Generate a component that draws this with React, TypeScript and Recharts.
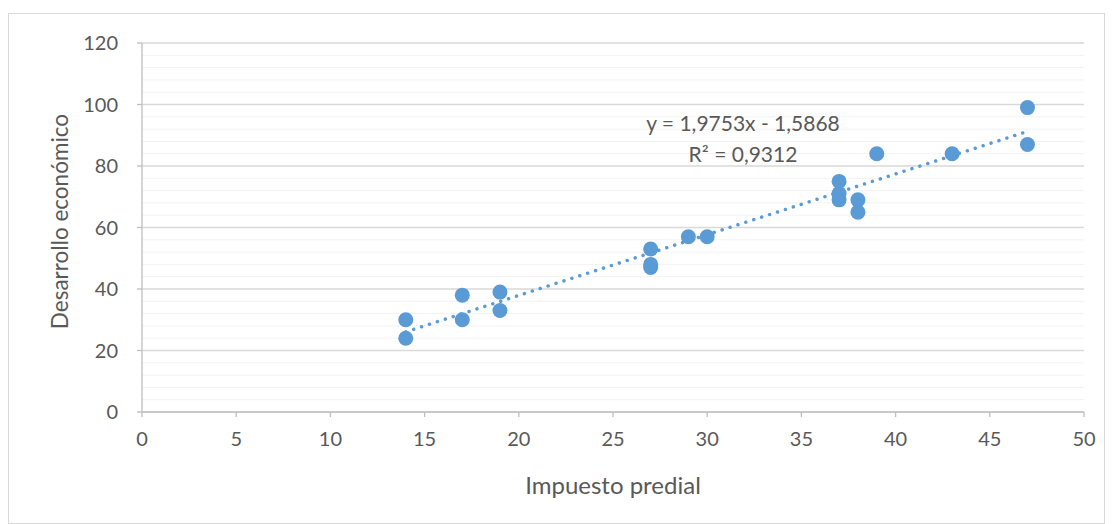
import React from 'react';
import {
  ScatterChart,
  Scatter,
  XAxis,
  YAxis,
  CartesianGrid,
  ReferenceLine,
  ReferenceDot,
} from 'recharts';

const impuestoPredial = [14, 14, 17, 17, 19, 19, 27, 27, 27, 29, 30, 37, 37, 37, 38, 38, 39, 43, 47, 47];
const desarrolloEconomico = [30, 24, 38, 30, 39, 33, 53, 48, 47, 57, 57, 75, 71, 69, 69, 65, 84, 84, 99, 87];

const xTicks = [0, 5, 10, 15, 20, 25, 30, 35, 40, 45, 50];
const yTicks = [0, 20, 40, 60, 80, 100, 120];
const yMinorTicks = [4, 8, 12, 16, 24, 28, 32, 36, 44, 48, 52, 56, 64, 68, 72, 76, 84, 88, 92, 96, 104, 108, 112, 116];

// Excel linear trendline
const slope = 1.9753;
const intercept = -1.5868;
const rSquared = '0,9312';

const FONT = 'Lato, "Open Sans", sans-serif';
const TEXT = '#595959';
const BLUE = '#5b9bd5';

const W = 1095;
const H = 509;
const MARGIN = { top: 29, right: 20, left: 43, bottom: 51 };

const data = impuestoPredial.map((x, i) => ({ x, y: desarrolloEconomico[i] }));
const xMin = Math.min(...impuestoPredial);
const xMax = Math.max(...impuestoPredial);
const trend = [
  { x: xMin, y: slope * xMin + intercept },
  { x: xMax, y: slope * xMax + intercept },
];

const Marker = (props: any) => <circle cx={props.cx} cy={props.cy} r={7.5} fill={BLUE} />;

const App: React.FC = () => {
  return (
    <div
      style={{
        width: W + 2,
        height: H + 2,
        marginTop: 5,
        border: '1px solid #d9d9d9',
        boxSizing: 'border-box',
        background: '#fff',
      }}
    >
      <ScatterChart width={W} height={H} margin={MARGIN}>
        {yMinorTicks.map((v) => (
          <ReferenceLine key={v} y={v} stroke="#f2f2f2" strokeWidth={1} />
        ))}
        <CartesianGrid vertical={false} stroke="#d9d9d9" strokeWidth={1.3} />
        <XAxis
          type="number"
          dataKey="x"
          domain={[0, 50]}
          ticks={xTicks}
          interval={0}
          height={60}
          stroke="#bfbfbf"
          strokeWidth={1.3}
          tickSize={5}
          tickMargin={15}
          tick={{ fill: TEXT, fontSize: 20, fontFamily: FONT }}
          label={{
            content: (p: any) => (
              <text
                x={p.viewBox.x + p.viewBox.width / 2}
                y={p.viewBox.y + 72}
                textAnchor="middle"
                dominantBaseline="central"
                fill={TEXT}
                fontSize={24}
                fontFamily={FONT}
              >
                Impuesto predial
              </text>
            ),
          }}
        />
        <YAxis
          type="number"
          dataKey="y"
          domain={[0, 120]}
          ticks={yTicks}
          interval={0}
          width={90}
          stroke="#bfbfbf"
          strokeWidth={1.3}
          tickSize={5}
          tickMargin={19}
          tick={{ fill: TEXT, fontSize: 20, fontFamily: FONT }}
          label={{
            content: (p: any) => {
              const cx = p.viewBox.x + 7;
              const cy = p.viewBox.y + p.viewBox.height / 2 - 6;
              return (
                <text
                  x={cx}
                  y={cy}
                  transform={`rotate(-90 ${cx} ${cy})`}
                  textAnchor="middle"
                  dominantBaseline="central"
                  fill={TEXT}
                  fontSize={22.5}
                  fontFamily={FONT}
                >
                  Desarrollo económico
                </text>
              );
            },
          }}
        />
        <Scatter data={data} shape={Marker} isAnimationActive={false} />
        <ReferenceLine
          segment={trend}
          stroke={BLUE}
          strokeWidth={3.5}
          strokeDasharray="0.01 8.3"
          strokeLinecap="round"
        />
        <ReferenceDot
          x={31.9}
          y={93.7}
          r={1}
          fill="none"
          stroke="none"
          label={{
            value: `y = ${String(slope).replace('.', ',')}x - ${String(-intercept).replace('.', ',')}`,
            position: 'center',
            fill: TEXT,
            fontSize: 21,
            fontFamily: FONT,
          }}
        />
        <ReferenceDot
          x={31.9}
          y={83.6}
          r={1}
          fill="none"
          stroke="none"
          label={{
            value: `R² = ${rSquared}`,
            position: 'center',
            fill: TEXT,
            fontSize: 21,
            fontFamily: FONT,
          }}
        />
      </ScatterChart>
    </div>
  );
};

export default App;
